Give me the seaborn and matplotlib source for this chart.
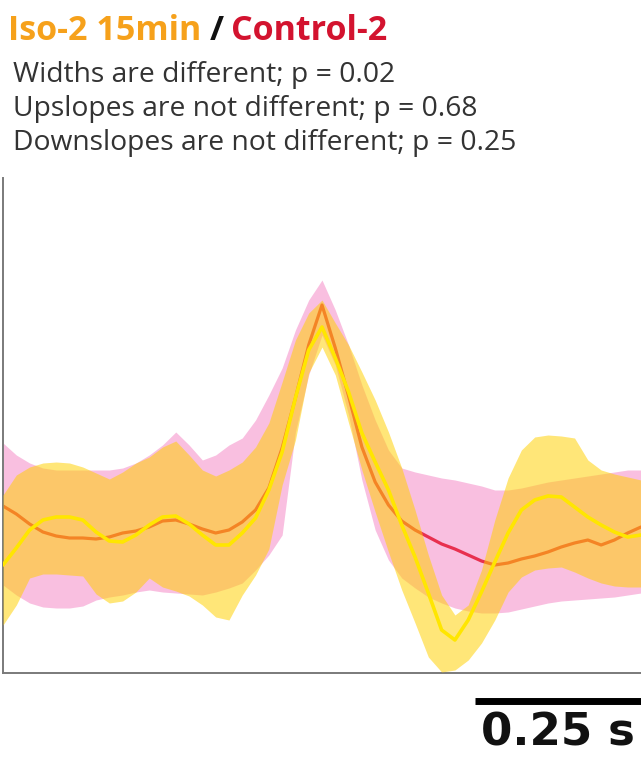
import numpy as np
import pandas as pd
import matplotlib
matplotlib.use("Agg")
import matplotlib.pyplot as plt
import seaborn as sns

# ---------------- data ----------------
time_ms = [-480, -460, -440, -420, -400, -380, -360, -340, -320, -300,
           -280, -260, -240, -220, -200, -180, -160, -140, -120, -100,
           -80, -60, -40, -20, 0, 20, 40, 60, 80, 100,
           120, 140, 160, 180, 200, 220, 240, 260, 280, 300,
           320, 340, 360, 380, 400, 420, 440, 460, 480]

control_mean = [1.67, 1.59, 1.49, 1.41, 1.37, 1.35, 1.35, 1.34, 1.36, 1.40,
                1.42, 1.46, 1.52, 1.53, 1.49, 1.44, 1.40, 1.43, 1.51, 1.63,
                1.85, 2.25, 2.75, 3.28, 3.68, 3.25, 2.77, 2.26, 1.91, 1.68,
                1.52, 1.43, 1.36, 1.29, 1.24, 1.18, 1.12, 1.08, 1.10, 1.14,
                1.17, 1.21, 1.26, 1.30, 1.33, 1.28, 1.33, 1.40, 1.46]
control_upper = [2.30, 2.18, 2.10, 2.05, 2.03, 2.03, 2.03, 2.03, 2.03, 2.05,
                 2.10, 2.18, 2.28, 2.41, 2.28, 2.13, 2.18, 2.28, 2.35, 2.53,
                 2.78, 3.05, 3.43, 3.73, 3.93, 3.63, 3.28, 2.88, 2.53, 2.23,
                 2.05, 2.01, 1.98, 1.95, 1.93, 1.90, 1.87, 1.83, 1.83, 1.85,
                 1.88, 1.91, 1.93, 1.95, 1.97, 1.99, 2.01, 2.03, 2.03]
control_lower = [0.88, 0.78, 0.70, 0.66, 0.65, 0.65, 0.67, 0.73, 0.76, 0.78,
                 0.81, 0.83, 0.81, 0.80, 0.79, 0.78, 0.81, 0.85, 0.90, 1.03,
                 1.18, 1.38, 2.41, 2.98, 3.38, 3.08, 2.58, 1.93, 1.43, 1.13,
                 0.95, 0.85, 0.76, 0.70, 0.65, 0.62, 0.60, 0.60, 0.61, 0.64,
                 0.67, 0.70, 0.72, 0.73, 0.74, 0.75, 0.76, 0.78, 0.80]

iso_mean = [1.08, 1.25, 1.43, 1.53, 1.56, 1.56, 1.53, 1.41, 1.32, 1.31,
            1.38, 1.48, 1.56, 1.57, 1.49, 1.38, 1.28, 1.28, 1.40, 1.55,
            1.83, 2.21, 2.75, 3.23, 3.46, 3.15, 2.81, 2.40, 2.11, 1.83,
            1.48, 1.16, 0.80, 0.43, 0.33, 0.53, 0.81, 1.11, 1.40, 1.63,
            1.73, 1.77, 1.76, 1.66, 1.56, 1.48, 1.41, 1.36, 1.38]
iso_upper = [1.78, 1.98, 2.06, 2.10, 2.11, 2.10, 2.06, 2.00, 1.94, 2.01,
             2.10, 2.16, 2.26, 2.32, 2.18, 2.03, 1.97, 2.03, 2.11, 2.26,
             2.50, 2.91, 3.33, 3.60, 3.73, 3.50, 3.28, 3.01, 2.73, 2.41,
             2.05, 1.63, 1.18, 0.78, 0.58, 0.68, 1.03, 1.53, 1.95, 2.23,
             2.36, 2.38, 2.37, 2.35, 2.13, 2.03, 1.99, 1.96, 1.93]
iso_lower = [0.48, 0.68, 0.95, 0.99, 0.99, 0.98, 0.97, 0.79, 0.70, 0.72,
             0.81, 0.95, 0.86, 0.82, 0.77, 0.68, 0.56, 0.53, 0.78, 0.98,
             1.24, 1.88, 2.33, 3.00, 3.26, 2.98, 2.50, 2.03, 1.61, 1.21,
             0.83, 0.50, 0.16, 0.01, 0.03, 0.13, 0.30, 0.53, 0.81, 0.96,
             1.03, 1.05, 1.06, 1.01, 0.95, 0.90, 0.87, 0.86, 0.86]

title_parts = ["Iso-2 15min", "/", "Control-2"]
stat_lines = ["Widths are different; p = 0.02",
              "Upslopes are not different; p = 0.68",
              "Downslopes are not different; p = 0.25"]
scale_len_s = 0.25
scale_label = "0.25 s"

# ---------------- styling ----------------
sns.set_style("white")
plt.rcParams["font.family"] = ["Open Sans", "DejaVu Sans"]

W, H = 641, 760
fig = plt.figure(figsize=(W / 100, H / 100), dpi=100)
ax = fig.add_axes([3 / W, 87 / H, 638 / W, 495 / H])

t = np.array(time_ms) / 1000.0
df = pd.DataFrame({
    "time": np.concatenate([t, t]),
    "value": np.concatenate([control_mean, iso_mean]),
    "group": ["Control-2"] * len(t) + ["Iso-2 15min"] * len(t),
})

PINK = "#F595CC"
YEL_BAND = "#FFD000"
RED = "#E8304F"
YEL_LINE = "#FFE600"

ax.fill_between(t, control_lower, control_upper, color=PINK, alpha=0.6,
                linewidth=0, zorder=1)
sns.lineplot(data=df[df.group == "Control-2"], x="time", y="value",
             color=RED, linewidth=2.3, ax=ax, zorder=2, legend=False)
ax.fill_between(t, iso_lower, iso_upper, color=YEL_BAND, alpha=0.53,
                linewidth=0, zorder=3)
sns.lineplot(data=df[df.group == "Iso-2 15min"], x="time", y="value",
             color=YEL_LINE, linewidth=2.6, ax=ax, zorder=4, legend=False)

ax.set_xlim(-0.48, 0.48)
ax.set_ylim(0, 4.95)
ax.set_xticks([])
ax.set_yticks([])
ax.set_xlabel("")
ax.set_ylabel("")
for s in ["top", "right"]:
    ax.spines[s].set_visible(False)
for s in ["left", "bottom"]:
    ax.spines[s].set_color("#7a7a7a")
    ax.spines[s].set_linewidth(1.4)

# scale bar
x1 = 0.48
x0 = x1 - scale_len_s
ax.plot([x0, x1], [-0.28, -0.28], color="black", linewidth=5,
        solid_capstyle="butt", clip_on=False)
ax.text((x0 + x1) / 2, -0.72, scale_label, ha="center", va="baseline",
        fontsize=32.5, fontweight="bold", family=["DejaVu Sans"],
        color="#111111", clip_on=False)

# title (multi-colour)
fig.canvas.draw()
renderer = fig.canvas.get_renderer()
ty = 1 - 40 / H
colors = ["#F6A11B", "#111111", "#D3132F"]
gaps = [0, 9, 7]
xpix = 8
for part, c, g in zip(title_parts, colors, gaps):
    xpix += g
    txt = fig.text(xpix / W, ty, part, color=c, fontsize=24.5,
                   fontweight="bold", va="baseline", ha="left",
                   family=["Open Sans", "DejaVu Sans"])
    bb = txt.get_window_extent(renderer)
    xpix = bb.x1

# stats lines
for line, base in zip(stat_lines, [82, 116, 150]):
    fig.text(13 / W, 1 - base / H, line, color="#333333", fontsize=20.3,
             va="baseline", ha="left")

fig.savefig("out.png", dpi=100)
